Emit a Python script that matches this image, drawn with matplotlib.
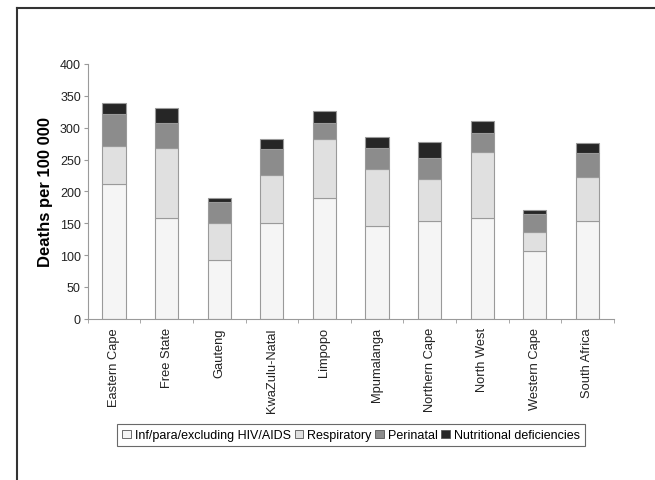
import matplotlib
matplotlib.use("Agg")
import matplotlib.pyplot as plt
import numpy as np
from matplotlib.lines import Line2D
from matplotlib.patches import Patch

provinces = ["Eastern Cape", "Free State", "Gauteng", "KwaZulu-Natal", "Limpopo",
             "Mpumalanga", "Northern Cape", "North West", "Western Cape", "South Africa"]
infectious = [212, 158, 93, 151, 189, 145, 153, 158, 107, 153]
respiratory = [60, 110, 58, 74, 93, 90, 66, 104, 30, 69]
perinatal = [50, 40, 32, 41, 26, 33, 34, 30, 28, 38]
nutritional = [17, 23, 7, 16, 18, 18, 25, 19, 6, 16]
series_names = ["Inf/para/excluding HIV/AIDS", "Respiratory", "Perinatal", "Nutritional deficiencies"]
yticks = [0, 50, 100, 150, 200, 250, 300, 350, 400]

colors = ["#f5f5f5", "#e0e0e0", "#8c8c8c", "#262626"]
edge = "#9a9a9a"

plt.rcParams['font.family'] = ['Liberation Sans', 'DejaVu Sans']
fig = plt.figure(figsize=(6.55, 4.81), dpi=100)
ax = fig.add_axes([0.134, 0.335, 0.803, 0.53])

x = np.arange(len(provinces))
bottom = np.zeros(len(provinces))
data = [infectious, respiratory, perinatal, nutritional]
for vals, c in zip(data, colors):
    ax.bar(x, vals, 0.44, bottom=bottom, color=c, edgecolor=edge, linewidth=0.8)
    bottom += np.array(vals)

ax.set_xlim(-0.5, len(provinces) - 0.5)
ax.set_ylim(0, 400)
ax.set_yticks(yticks)
ax.tick_params(axis='y', labelsize=9, length=3, color=edge, pad=2, labelcolor="#222222")
ax.set_xticks(x)
ax.set_xticklabels(provinces, rotation=90, fontsize=9.3, color="#222222")
ax.set_xticks(np.arange(-0.5, len(provinces), 1), minor=True)
ax.tick_params(axis='x', which='major', length=0, pad=6)
ax.tick_params(axis='x', which='minor', length=3, color=edge)
for s in ['top', 'right']:
    ax.spines[s].set_visible(False)
for s in ['left', 'bottom']:
    ax.spines[s].set_color(edge)
    ax.spines[s].set_linewidth(0.8)
ax.set_ylabel("Deaths per 100 000", fontsize=12, fontweight='bold', labelpad=5)

handles = [Patch(facecolor=c, edgecolor="#555555", linewidth=0.6) for c in colors]
leg = fig.legend(handles, series_names, loc='center', bbox_to_anchor=(0.536, 0.093),
                 ncol=4, fontsize=9, frameon=True, fancybox=False,
                 handlelength=0.7, handleheight=0.7, handletextpad=0.3,
                 columnspacing=0.3, borderpad=0.4, borderaxespad=0)
leg.get_frame().set_edgecolor("#444444")
leg.get_frame().set_linewidth(0.8)

fig.add_artist(Line2D([17/655, 17/655], [0, 1 - 8.5/481], color="#333333", linewidth=1.5,
                      transform=fig.transFigure))
fig.add_artist(Line2D([17/655, 1], [1 - 8.5/481, 1 - 8.5/481], color="#333333", linewidth=1.5,
                      transform=fig.transFigure))

fig.savefig("out.png", dpi=100)
